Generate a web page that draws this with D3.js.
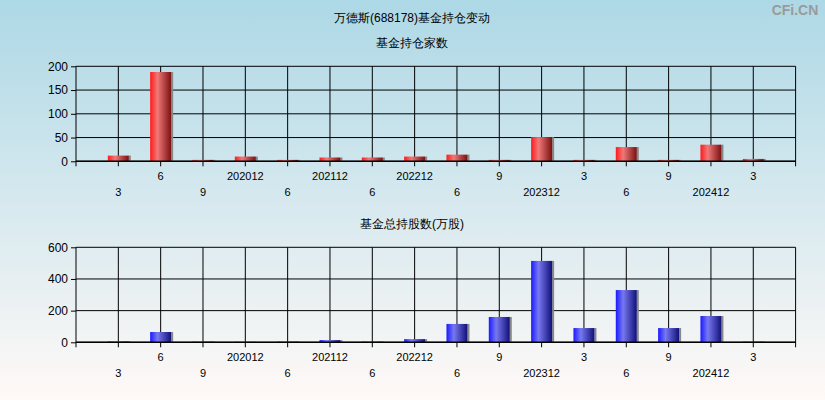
<!DOCTYPE html>
<html><head><meta charset="utf-8">
<script src="https://cdn.jsdelivr.net/npm/d3@7"></script>
<style>
body{margin:0;padding:0;}
svg text{font-family:"Liberation Sans",Arial,sans-serif;}
</style></head>
<body>
<svg id="c" width="825" height="400"></svg>
<script>
const categories = ["202003","202006","202009","202012","202106","202112","202206","202212","202306","202309","202312","202403","202406","202409","202412","202503"];
const tickLabels = ["3","6","9","202012","6","202112","6","202212","6","9","202312","3","6","9","202412","3"];
const fundCount = [12,188,3,10,3,8,8,10,14,3,51,3,30,3,35,5];
const fundShares = [5,65,4,3,4,14,4,20,116,160,514,90,330,90,166,4];
const countTicks = [0,50,100,150,200];
const sharesTicks = [0,200,400,600];

const svg = d3.select("#c");
const defs = svg.append("defs");
const bg = defs.append("linearGradient").attr("id","bg").attr("x1",0).attr("y1",0).attr("x2",0).attr("y2",1);
bg.append("stop").attr("offset","0%").attr("stop-color","#add8e6");
bg.append("stop").attr("offset","100%").attr("stop-color","#fff9f7");
svg.append("rect").attr("width",825).attr("height",400).attr("fill","url(#bg)");

function barGrad(id, c1, c2, c3){
  const g = defs.append("linearGradient").attr("id",id).attr("x1",0).attr("y1",0).attr("x2",1).attr("y2",0);
  g.append("stop").attr("offset","0%").attr("stop-color",c1);
  g.append("stop").attr("offset","35%").attr("stop-color",c2);
  g.append("stop").attr("offset","100%").attr("stop-color",c3);
}
barGrad("red","#ff1a1a","#f07878","#7a1010");
barGrad("blue","#1a1aff","#7878f0","#10107a");

svg.append("text").attr("x",412).attr("y",22).attr("text-anchor","middle").attr("font-size",12).text("万德斯(688178)基金持仓变动");
svg.append("text").attr("x",795).attr("y",15).attr("text-anchor","middle").attr("font-size",14).attr("font-weight","bold").attr("fill","#9a9a9a").text("CFi.CN");

const left = 76, right = 795.6;
const x = d3.scalePoint().domain(categories).range([left,right]).padding(1);

function chart(top, bottom, title, data, ticks, grad){
  svg.append("text").attr("x",412).attr("y",top-19).attr("text-anchor","middle").attr("font-size",12).text(title);
  const y = d3.scaleLinear().domain([0, ticks[ticks.length-1]]).range([bottom, top]);
  const g = svg.append("g");
  // horizontal grid
  g.selectAll(".hg").data(ticks).enter().append("line")
    .attr("x1",left).attr("x2",right).attr("y1",d=>y(d)).attr("y2",d=>y(d))
    .attr("stroke","#000").attr("stroke-width",1);
  // vertical grid
  const vx = categories.map(c=>x(c)).concat([left,right]);
  g.selectAll(".vg").data(vx).enter().append("line")
    .attr("x1",d=>d).attr("x2",d=>d).attr("y1",top).attr("y2",bottom+5)
    .attr("stroke","#000").attr("stroke-width",1);
  // y axis
  const ya = d3.axisLeft(y).tickValues(ticks).tickSize(5).tickPadding(3);
  const yg = svg.append("g").attr("transform",`translate(${left},0)`).call(ya);
  yg.select(".domain").remove();
  yg.selectAll("text").attr("font-size",12).attr("fill","#000").attr("font-family","Liberation Sans, Arial, sans-serif");
  yg.selectAll("line").attr("stroke","#000");
  // bars
  const bw = 21;
  g.selectAll(".sh").data(data).enter().append("rect")
    .attr("x",(d,i)=>x(categories[i])-bw/2+bw).attr("width",2)
    .attr("y",d=>y(d)).attr("height",d=>bottom-y(d)).attr("fill","#888");
  g.selectAll(".bar").data(data).enter().append("rect")
    .attr("x",(d,i)=>x(categories[i])-bw/2).attr("width",bw)
    .attr("y",d=>y(d)).attr("height",d=>Math.max(1,bottom-y(d))).attr("fill",`url(#${grad})`);
  // baseline
  g.append("line").attr("x1",left).attr("x2",right).attr("y1",bottom).attr("y2",bottom).attr("stroke","#000").attr("stroke-width",1.5);
  // x labels
  g.selectAll(".xl").data(tickLabels).enter().append("text")
    .attr("x",(d,i)=>x(categories[i])).attr("y",(d,i)=> bottom + (i%2===1 ? 19 : 35))
    .attr("text-anchor","middle").attr("font-size",11).text(d=>d);
}
chart(66.3, 161.3, "基金持仓家数", fundCount, countTicks, "red");
chart(247.3, 342.3, "基金总持股数(万股)", fundShares, sharesTicks, "blue");
</script>
</body></html>
